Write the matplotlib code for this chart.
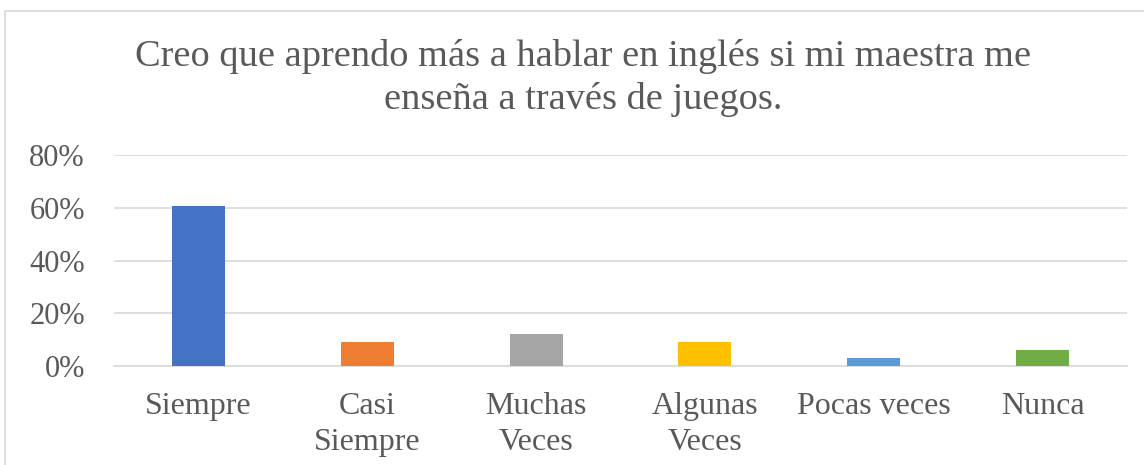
import matplotlib
matplotlib.use('Agg')
import matplotlib.pyplot as plt
from matplotlib.patches import Rectangle
from matplotlib.ticker import PercentFormatter

categories = ['Siempre', 'Casi\nSiempre', 'Muchas\nVeces', 'Algunas\nVeces', 'Pocas veces', 'Nunca']
values = [0.606, 0.091, 0.121, 0.091, 0.030, 0.061]
colors = ['#4472C4', '#ED7D31', '#A5A5A5', '#FFC000', '#5B9BD5', '#70AD47']
y_ticks = [0.0, 0.2, 0.4, 0.6, 0.8]
title = 'Creo que aprendo más a hablar en inglés si mi maestra me\nenseña a través de juegos.'

text_clr = '#595959'
grid_clr = '#D9D9D9'

plt.rcParams['font.family'] = ['Liberation Serif', 'DejaVu Serif']

fig = plt.figure(figsize=(11.44, 4.65), dpi=100)
fig.patches.append(Rectangle((5 / 1144, -0.01), 1.02, (465 - 11) / 465 + 0.01,
                             transform=fig.transFigure, facecolor='none',
                             edgecolor=grid_clr, linewidth=1.2))

ax = fig.add_axes([114 / 1144, 99 / 465, 1013 / 1144, 211 / 465])
x = range(len(categories))
ax.bar(x, values, width=0.314, color=colors, zorder=3)

ax.set_xlim(-0.5, len(categories) - 0.5)
ax.set_ylim(0, 0.8)
ax.set_yticks(y_ticks)
ax.yaxis.set_major_formatter(PercentFormatter(1.0, decimals=0))
ax.set_xticks(list(x))
ax.set_xticklabels(categories, linespacing=1.3)
ax.tick_params(axis='both', length=0, labelsize=23, colors=text_clr)
ax.tick_params(axis='y', pad=21, labelsize=22)
ax.tick_params(axis='x', pad=19)
ax.grid(axis='y', color=grid_clr, linewidth=1.2, zorder=0)
for side in ['top', 'right', 'left']:
    ax.spines[side].set_visible(False)
ax.spines['bottom'].set_color(grid_clr)
ax.spines['bottom'].set_linewidth(1.2)

fig.text(583 / 1144, 1 - 78 / 465, title, ha='center', va='center',
         fontsize=27.6, color=text_clr, linespacing=1.27)

fig.savefig('out.png', dpi=100)
